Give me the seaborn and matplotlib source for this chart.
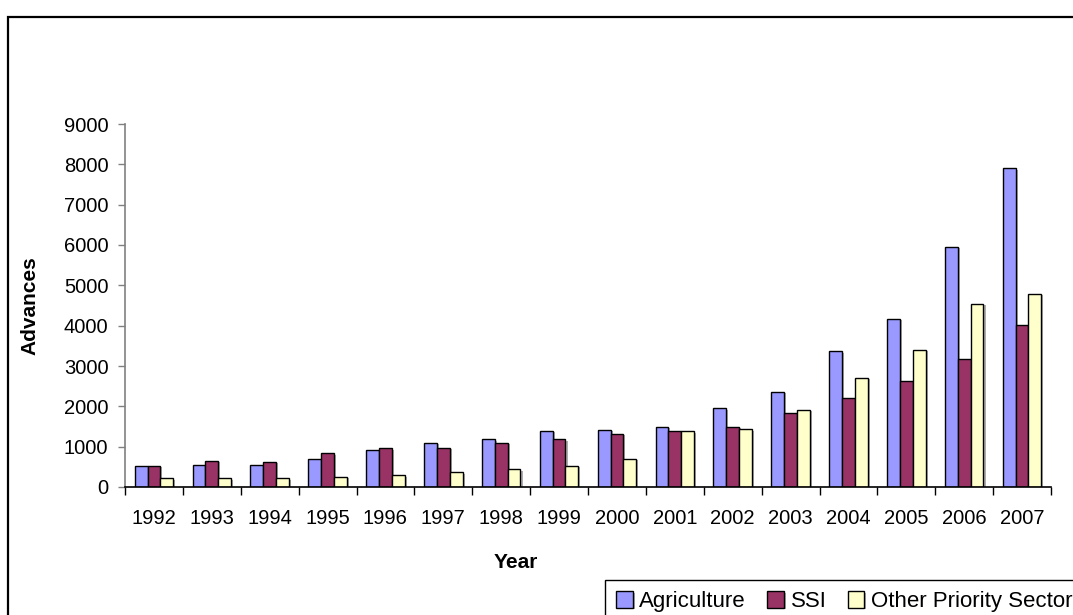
import matplotlib
matplotlib.use("Agg")
import matplotlib.pyplot as plt
import matplotlib.patheffects as pe
from matplotlib.patches import Rectangle
import numpy as np
import pandas as pd
import seaborn as sns

# Priority sector advances by year
years = ["1992", "1993", "1994", "1995", "1996", "1997", "1998", "1999",
         "2000", "2001", "2002", "2003", "2004", "2005", "2006", "2007"]
agriculture = [520, 545, 545, 685, 915, 1090, 1180, 1390,
               1420, 1495, 1950, 2355, 3365, 4175, 5960, 7900]
ssi = [530, 645, 620, 835, 960, 975, 1100, 1180,
       1315, 1395, 1495, 1825, 2200, 2630, 3165, 4010]
other_priority = [215, 215, 215, 255, 290, 365, 440, 530,
                  705, 1380, 1430, 1910, 2705, 3395, 4535, 4785]
sectors = ["Agriculture", "SSI", "Other Priority Sector"]
colors = ["#9999FF", "#993366", "#FFFFCC"]

df = pd.DataFrame({
    "Year": years * 3,
    "Advances": agriculture + ssi + other_priority,
    "Sector": [s for s in sectors for _ in years],
})

sns.set_theme(style="white")
plt.rcParams["font.family"] = ["Liberation Sans", "DejaVu Sans"]
plt.rcParams["text.color"] = "black"
plt.rcParams["axes.labelcolor"] = "black"
plt.rcParams["xtick.color"] = "black"
plt.rcParams["ytick.color"] = "black"

W, H = 1073, 615
fig = plt.figure(figsize=(W / 100, H / 100), dpi=100)
ax = fig.add_axes([125 / W, 1 - 487 / H, (1051 - 125) / W, (487 - 124) / H])

sns.barplot(data=df, x="Year", y="Advances", hue="Sector",
            palette=colors, width=0.667, edgecolor="black", linewidth=1.0,
            saturation=1, ax=ax)

# soft drop shadow on the bars
for p in ax.patches:
    p.set_path_effects([pe.SimplePatchShadow(offset=(1.5, -1.0), shadow_rgbFace="#777777", alpha=0.6),
                        pe.Normal()])

ax.set_ylim(0, 9000)
ax.set_xlim(-0.5, len(years) - 0.5)
ax.set_yticks(np.arange(0, 9001, 1000))
ax.tick_params(axis="y", which="major", direction="out", length=5, width=1,
               color="#808080", labelsize=14.5, pad=7, left=True,
               labelcolor="black")

# category labels centered, ticks at group boundaries
ax.set_xticks(np.arange(-0.5, len(years), 1.0))
ax.set_xticklabels([])
ax.set_xticks(np.arange(len(years)), minor=True)
ax.set_xticklabels(years, minor=True)
ax.tick_params(axis="x", which="major", direction="out", length=6, width=1,
               color="black", bottom=True)
ax.tick_params(axis="x", which="minor", length=0, labelsize=14.5, pad=16,
               labelcolor="black")

for side in ["top", "right"]:
    ax.spines[side].set_visible(False)
ax.spines["left"].set_color("#808080")
ax.spines["bottom"].set_color("black")
ax.spines["left"].set_linewidth(1.2)
ax.spines["bottom"].set_linewidth(1.2)
ax.grid(False)

ax.set_xlabel("Year", fontsize=15, fontweight="bold")
ax.set_ylabel("Advances", fontsize=15, fontweight="bold")
ax.xaxis.set_label_coords((516 - 125) / (1051 - 125), -(553 - 487) / (487 - 124))
ax.yaxis.set_label_coords(-(125 - 39) / (1051 - 125), 0.5)

handles, labels = ax.get_legend_handles_labels()
ax.legend(handles, labels, ncol=3, loc="upper left",
          bbox_to_anchor=(605 / W, 1 - 580 / H), bbox_transform=fig.transFigure,
          frameon=True, fancybox=False, edgecolor="black", framealpha=1,
          fontsize=16, handlelength=0.75, handleheight=0.75, handletextpad=0.3,
          columnspacing=0.95, borderaxespad=0, borderpad=0.5)
ax.get_legend().get_frame().set_linewidth(1.0)

# outer chart border
fig.patches.append(Rectangle((8 / W, -0.2), 1.2, 1 - 17 / H + 0.2,
                             transform=fig.transFigure, fill=False,
                             edgecolor="black", linewidth=1.6, zorder=10))

fig.savefig("out.png", dpi=100)
